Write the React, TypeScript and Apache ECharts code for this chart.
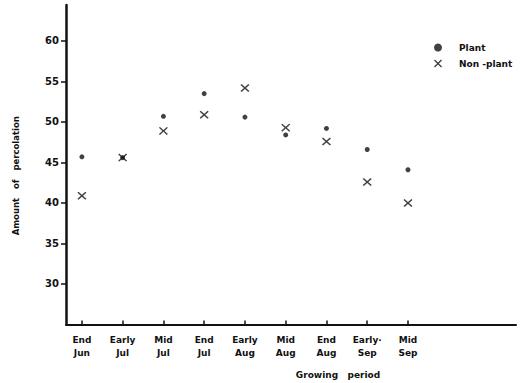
import React, { useEffect, useRef } from "react";
import * as echarts from "echarts";

// Growing periods along the horizontal axis (two-line labels)
const periods = [
  "End\nJun",
  "Early\nJul",
  "Mid\nJul",
  "End\nJul",
  "Early\nAug",
  "Mid\nAug",
  "End\nAug",
  "Early·\nSep",
  "Mid\nSep",
];

// Amount of percolation per period
const plantValues = [45.7, 45.6, 50.7, 53.5, 50.6, 48.4, 49.2, 46.6, 44.1];
const nonPlantValues = [40.9, 45.6, 48.9, 50.9, 54.2, 49.3, 47.6, 42.6, 40.0];

const yTicks = [30, 35, 40, 45, 50, 55, 60];

const INK = "#111";
const FONT = "'DejaVu Sans', 'Liberation Sans', sans-serif";

// Filled cross used as the "Non-plant" marker
const CROSS =
  "path://M0,1.2L1.2,0L5,3.8L8.8,0L10,1.2L6.2,5L10,8.8L8.8,10L5,6.2L1.2,10L0,8.8L3.8,5Z";

export default function App() {
  const ref = useRef<HTMLDivElement>(null);

  useEffect(() => {
    if (!ref.current) return;
    const chart = echarts.init(ref.current, null, { renderer: "svg" });
    const idx = periods.map((_, i) => i);

    chart.setOption({
      animation: false,
      backgroundColor: "#fff",
      textStyle: { fontFamily: FONT, color: INK },
      grid: { left: 66, right: 9, top: 5, bottom: 58.5 },
      legend: {
        orient: "vertical",
        left: 429,
        top: 38,
        itemGap: 7,
        itemWidth: 8,
        itemHeight: 8,
        textStyle: {
          fontSize: 9,
          fontWeight: "bold",
          color: INK,
          fontFamily: FONT,
          padding: [0, 0, 0, 12],
        },
        data: [
          { name: "Plant", icon: "circle", itemStyle: { color: INK } },
          { name: "Non -plant", icon: CROSS, itemStyle: { color: INK } },
        ],
      },
      xAxis: {
        type: "value",
        min: -0.39,
        max: 10.65,
        splitLine: { show: false },
        axisLine: { show: true, onZero: false, lineStyle: { color: INK, width: 2 } },
        axisTick: {
          show: true,
          inside: true,
          length: 4,
          customValues: idx,
          lineStyle: { color: INK, width: 1.5 },
        },
        axisLabel: {
          customValues: idx,
          margin: 9,
          fontSize: 9,
          fontWeight: "bold",
          lineHeight: 13,
          color: INK,
          fontFamily: FONT,
          formatter: (v: number) => periods[Math.round(v)] ?? "",
        },
      },
      yAxis: {
        type: "value",
        min: 25,
        max: 64.44,
        interval: 5,
        splitLine: { show: false },
        axisLine: { show: true, onZero: false, lineStyle: { color: INK, width: 2.5 } },
        axisTick: {
          show: true,
          length: 5,
          customValues: yTicks,
          lineStyle: { color: INK, width: 1.5 },
        },
        axisLabel: {
          customValues: yTicks,
          margin: 7,
          fontSize: 10,
          fontWeight: "bold",
          color: INK,
          fontFamily: FONT,
        },
        name: "Amount   of   percolation",
        nameLocation: "middle",
        nameGap: 46,
        nameRotate: 90,
        nameTextStyle: {
          fontSize: 8.5,
          fontWeight: "bold",
          color: INK,
          fontFamily: FONT,
          padding: [0, 22, 0, 0],
        },
      },
      graphic: [
        {
          type: "text",
          x: 338,
          y: 375,
          style: {
            text: "Growing   period",
            font: `bold 9px ${FONT}`,
            fill: INK,
            align: "center",
            verticalAlign: "middle",
          },
        },
      ],
      series: [
        {
          name: "Plant",
          type: "scatter",
          symbol: "circle",
          symbolSize: 5,
          itemStyle: { color: INK },
          data: plantValues.map((v, i) => [i, v]),
        },
        {
          name: "Non -plant",
          type: "scatter",
          symbol: CROSS,
          symbolSize: [9, 8],
          itemStyle: { color: INK },
          data: nonPlantValues.map((v, i) => [i, v]),
        },
      ],
    });

    return () => chart.dispose();
  }, []);

  return (
    <div
      ref={ref}
      style={{ position: "fixed", left: 0, top: 0, width: 525, height: 383, background: "#fff" }}
    />
  );
}
